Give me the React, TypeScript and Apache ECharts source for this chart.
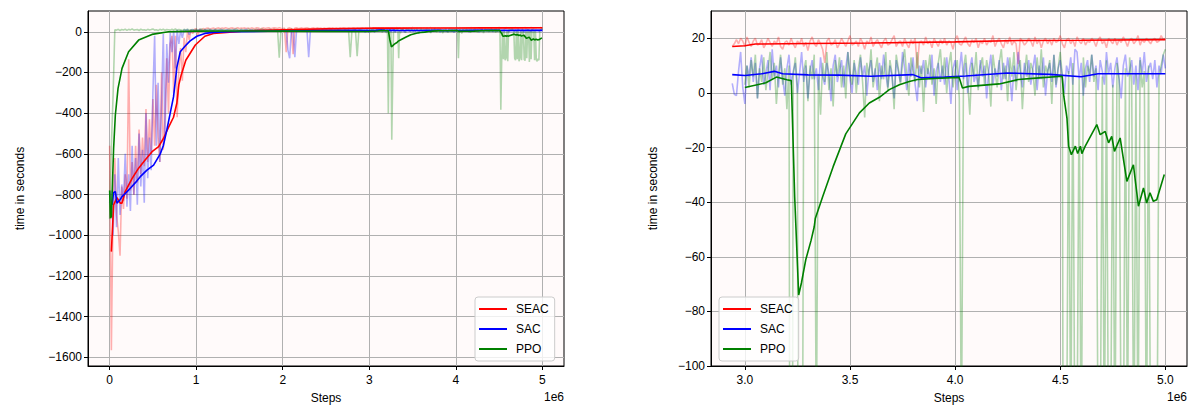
import React, { useEffect, useRef } from "react";
import * as echarts from "echarts";

// ---------- DATA (x in units of 1e6 steps) ----------
const EARLY_START = 0;
const EARLY_STEP = 0.02;
const LATE_START = 2.94;
const LATE_STEP = 0.01;

const seacRawEarly = [
  -560, -1565, -850, -620, -900, -980, -1100, -760, -870, -700,
  -820, -135, -780, -640, -800, -560, -740, -480, -700, -520,
  -660, -380, -640, -430, -600, -330, -560, -260, -520, -640,
  -200, -580, -420, -130, -400, -60, -20, -300, -20, -420,
  -180, -80, -240, -30, -100, 5, -40, 10, -10, 12,
  15, -20, 14, 8, 16, 12, 17, 18, 13, 16,
  18, 14, 17, 19, 15, 18, 16, 20, 17, 15,
  18, 19, 16, 17, 20, 15, 18, 17, 19, 16,
  18, 15, 19, 17, 16, 20, 18, 14, 17, 19,
  16, 18, 20, 15, 17, 19, 18, 16, 20, 17,
  15, 18, -100, 17, 19, 16, -110, 18, 20, 15,
  17, 19, 16, 18, 20, 17, 15, 18, 19, 16,
  20, 17, 18, 15, 19, 16, 18, 20, 17, 19,
  16, 18, 15, 19, 17, 20, 18, 16, 19, 17,
  18, 20, 16, 19, 17, 18, 19,
];

const sacRawEarly = [
  -840, -780, -1000, -700, -960, -620, -900, -750, -830, -600,
  -860, -700, -880, -560, -800, -620, -850, -500, -760, -580,
  -840, -400, -720, -520, -680, -300, -20, -560, -250, -640,
  -350, -10, -520, -60, -250, -5, -100, 5, -180, 10,
  -60, 8, -30, 10, 5, 12, -15, 8, 10, 6,
  9, 5, 11, 7, 3, 10, 8, 6, 12, 4,
  8, 10, 5, 9, 7, 11, 4, 8, 10, 6,
  9, 5, 11, 7, 8, 3, 10, 6, 9, 12,
  5, 8, 10, 4, 9, 7, 11, 6, 8, 10,
  4, 9, 7, 12, 5, 8, 10, 6, 9, 7,
  11, 5, 8, -90, -130, 6, 9, -125, 10, 7,
  5, 8, 10, 6, 9, -125, 7, 4, 11, 8,
  6, 9, 5, 10, 7, 12, 4, 8, 10, 6,
  9, 5, 11, 7, 8, 4, 10, 6, 9, 12,
  5, 8, 10, 7, 9, 6, 4,
];

const ppoRawEarly = [
  -920, -560, -310, 10, 8, 12, 6, 11, 9, 13,
  7, 12, 9, 14, 8, 10, 11, 6, 13, 9,
  10, 7, 12, 9, 11, 14, 8, 10, 6, 12,
  9, 13, 7, 11, 10, 8, 12, 9, 14, 7,
  11, 10, 6, 12, 9, 13, 8, 10, 11, 7,
  12, 9, 10, 14, 8, 11, 7, 13, 9, 10,
  6, 12, 10, 8, 13, 9, 11, 7, 10, 12,
  8, 11, 9, 14, 10, 7, 12, 9, 11, 8,
  13, 10, 7, 11, 9, 12, 8, 10, 14, 9,
  11, 7, 12, 10, 8, 13, 9, 11, -128, 10,
  8, 12, 9, 11, 7, 13, 10, 8, 12, 9,
  11, 10, 7, 13, 9, 12, 8, 10, 11, 9,
  12, 8, 10, 13, 9, 7, 11, 10, 12, 8,
  10, 13, 9, 11, 7, 12, 10, 8, 11, -125,
  9, 12, 10, -120, 8, 11, 7,
];

const seacRawLate = [
  17, 18, 19.5, 18, 20, 19, 17, 20.5, 18.5, 17,
  19, 20, 17.5, 18, 19.5, 16.5, 18, 20, 18.5, 17,
  19, 18, 20.5, 17, 16, 18.5, 19, 17.5, 20, 18,
  16.5, 19, 18, 20, 17, 18.5, 15.5, 19, 20.5, 18,
  17, 19.5, 18, 16, 11, 19, 20, 17.5, 18, 19.5,
  16.5, 18, 20, 18.5, 17, 19, 21, 17.5, 18, 19,
  17, 20, 18.5, 16, 19, 18, 20.5, 17, 18.5, 19.5,
  18, 16.5, 19, 20, 17.5, 18, 19.5, 21, 17, 18.5,
  19, 17, 20, 18, 16.5, 19.5, 18, 20, 9, 18.5,
  19, 17.5, 20.5, 18, 19, 16.5, 20, 18.5, 17, 19.5,
  18, 20, 17.5, 19, 18.5, 16, 19.5, 21, 18, 17.5,
  19, 20.5, 18, 17, 19.5, 18.5, 20, 16.5, 19, 18,
  20, 17.5, 19, 18.5, 21, 17, 19, 20, 18, 16.5,
  19.5, 18, 20.5, 17.5, 19, 18, 10.5, 20, 19, 17.5,
  18.5, 20, 19, 17, 20.5, 18, 19.5, 16.5, 19, 20,
  18, 19.5, 17.5, 20, 18.5, 19, 21, 18, 16.5, 19.5,
  20, 18, 19.5, 17, 20.5, 19, 18, 20, 17.5, 19,
  18.5, 20, 19, 17, 19.5, 20.5, 18, 19, 16.5, 20,
  19, 18, 20, 17.5, 19.5, 18.5, 20.5, 19, 17, 19.5,
  20, 18, 19, 21, 17.5, 19.5, 18.5, 20, 19, 18,
  19.5, 20, 18.5, 19, 21, 19.5, 20,
];

const sacRawLate = [
  3.5, -0.5, -1, 8, 15, 2, -4, 10, 6, 13,
  4, 11, -2, 9, 14, 3, 7, 12, 1, 16,
  6, 10, 2, 13, 5, -1, 9, 14, 3, 8,
  11, 0, 7, 15, 4, 10, -2, 8, 12, 5,
  9, 1, 13, 6, 3, 11, 7, -3, 10, 14,
  4, 8, 12, 2, 9, 15, 5, 0, 11, 7,
  3, 13, 6, 10, -1, 8, 12, 4, 9, 1,
  11, 5, 14, 7, 2, 10, 6, -2, 12, 8,
  4, 15, 9, 1, 11, 6, 13, 3, -3, 10,
  7, 12, 2, 9, 5, 14, -1, 8, 11, 4,
  10, 3, 13, 6, -4, 9, 12, 1, 8, 15,
  5, 11, 0, 9, 13, 4, 7, 2, 12, 6,
  10, -2, 8, 14, 3, 9, 6, 12, 1, 11,
  5, 13, 7, -3, 10, 4, 15, 8, 2, 11,
  6, 12, 3, 9, 14, 1, 10, 5, 13, -1,
  8, 11, 4, 14, 2, 9, 12, 6, 0, 10,
  7, 13, 3, 16, 15, 5, 11, -1, 9, 12,
  4, 14, 6, 10, 1, 12, 8, 3, 15, 7,
  11, 2, 9, 13, 5, -2, 10, 14, 6, 8,
  12, 3, 10, 1, 13, 7, 15, 4, 9, 11,
  5, 12, 2, 10, 7, 14, 9,
];

const ppoRawLate = [
  6, 8, 4, 9, 5, 7, 3, 10, 2, 12,
  6, 14, -2, 9, 4, 13, 1, 8, 15, 5,
  11, -4, 7, 14, 3, 9, -6, 10, -400, 6,
  13, 2, -530, -250, 8, 12, -3, 10, 5, 14,
  -130, 7, -8, 11, 4, 15, 1, 9, -5, 12,
  6, 13, 2, 10, -2, 15, 7, 3, 12, 0,
  9, 14, 4, -9, 11, 6, 16, 2, 8, 13,
  -3, 10, 5, 15, 1, 12, 7, -6, 14, 9,
  3, 11, 16, 6, -1, 13, 8, 4, 15, 2,
  10, -7, 12, 7, 14, 3, 9, -4, 11, 16,
  5, 13, 0, 10, 15, 2, 8, 12, -2, -130,
  9, 14, 4, -8, 11, 6, 15, 1, 10, 13,
  3, 12, 7, -5, 14, 8, 2, 11, 16, 5,
  10, -3, 13, 6, 15, 1, 9, 12, -6, 7,
  14, 4, 11, 8, -1, 13, 5, 16, 2, 10,
  7, 12, -4, 14, 3, 9, 15, 6, -383, -140,
  8, -135, 11, -140, -130, 5, -145, 13, 2, 10,
  7, 14, 4, 9, -130, -140, 6, -135, 12, -145,
  -130, 3, -140, 11, 5, -135, -142, 9, -130, 13,
  4, -148, 7, -135, 12, 2, 8, -140, 10, -138,
  -145, -132, -140, 6, 10, 14, 16,
];

const seacSmoothX = [0.02, 0.046, 0.085, 0.123, 0.143, 0.18, 0.26, 0.335, 0.41, 0.49, 0.566, 0.623, 0.68, 0.738, 0.777, 0.8, 0.827, 0.88, 0.99, 1.1, 1.2, 1.35, 1.6, 2.0, 2.5, 2.94, 3.0, 3.05, 3.3, 3.6, 4.0, 4.3, 4.6, 5.0];
const seacSmoothY = [-1080, -850, -815, -842, -842, -785, -720, -670, -630, -589, -564, -523, -470, -420, -350, -260, -212, -140, -65, -22, -8, -3, 5, 10, 14, 17.0, 17.3, 17.9, 18.1, 18.3, 18.7, 19.2, 19.3, 19.5];

const sacSmoothX = [0.027, 0.046, 0.066, 0.085, 0.12, 0.143, 0.19, 0.239, 0.3, 0.354, 0.431, 0.508, 0.585, 0.62, 0.662, 0.7, 0.738, 0.777, 0.816, 0.873, 0.93, 1.008, 1.1, 1.2, 1.4, 2.0, 2.5, 2.94, 3.0, 3.08, 3.14, 3.18, 3.3, 3.45, 3.6, 3.8, 3.84, 3.95, 4.05, 4.25, 4.45, 4.6, 4.68, 4.85, 5.0];
const sacSmoothY = [-851, -790, -785, -842, -825, -810, -790, -769, -740, -712, -680, -655, -600, -560, -480, -400, -320, -175, -98, -70, -45, -22, -8, -3, 0, 4, 6, 6.7, 6.4, 7.0, 7.9, 7.0, 6.6, 6.5, 6.1, 6.7, 5.5, 5.8, 6.2, 7.3, 6.8, 5.9, 7.0, 7.0, 7.0];

const ppoSmoothX = [0.0, 0.01, 0.02, 0.046, 0.066, 0.097, 0.143, 0.219, 0.335, 0.489, 0.68, 1.0, 1.5, 2.0, 2.5, 2.8, 3.0, 3.1, 3.15, 3.2, 3.221, 3.237, 3.256, 3.269, 3.29, 3.315, 3.33, 3.335, 3.37, 3.42, 3.48, 3.545, 3.592, 3.64, 3.687, 3.735, 3.782, 3.821, 3.9, 4.019, 4.035, 4.066, 4.21, 4.3, 4.4, 4.509, 4.517, 4.532, 4.54, 4.553, 4.572, 4.583, 4.596, 4.603, 4.619, 4.674, 4.69, 4.714, 4.73, 4.745, 4.758, 4.785, 4.817, 4.848, 4.872, 4.896, 4.911, 4.927, 4.943, 4.959, 4.995];
const ppoSmoothY = [-780, -915, -908, -572, -409, -278, -180, -98, -41, -13, 0, 3, 4, 3, 2, 1, 2.0, 3.7, 5.8, 4.8, 4.5, -38, -74, -69.6, -61, -54, -49, -46, -38, -27, -15, -7.3, -3.7, -1.6, 1.2, 3.0, 4.2, 4.9, 5.3, 5.7, 1.8, 2.4, 3.3, 4.9, 5.5, 6.1, -1.2, -9.2, -19.5, -22.6, -19.5, -22.2, -19.5, -22.2, -19.5, -11.6, -15.3, -14.1, -18.3, -15.9, -21.4, -16.5, -32.4, -26.3, -41.5, -34.8, -40.3, -36.6, -39.7, -39.1, -29.9];

const algoNames = ["SEAC", "SAC", "PPO"];
const algoColors = ["#ff0000", "#0000ff", "#008000"];

const leftXTicks = [0, 1, 2, 3, 4, 5];
const leftYTicks = [-1600, -1400, -1200, -1000, -800, -600, -400, -200, 0];
const rightXTicks = [3.0, 3.5, 4.0, 4.5, 5.0];
const rightYTicks = [-100, -80, -60, -40, -20, 0, 20];

// ---------- helpers ----------
const stepped = (start: number, step: number, ys: number[]) =>
  ys.map((y, i) => [Math.round((start + i * step) * 1000) / 1000, y]);
const paired = (xs: number[], ys: number[]) => xs.map((x, i) => [x, ys[i]]);
const from = (pts: number[][], x0: number) => pts.filter((p) => p[0] >= x0 - 1e-9);

const FONT = "'Liberation Sans', Arial, sans-serif";
const TXT = "#000000";

export default function App() {
  const ref = useRef<HTMLDivElement>(null);

  useEffect(() => {
    if (!ref.current) return;
    const chart = echarts.init(ref.current, undefined, { renderer: "svg" });

    const raw = [
      [...stepped(EARLY_START, EARLY_STEP, seacRawEarly), ...stepped(LATE_START, LATE_STEP, seacRawLate)],
      [...stepped(EARLY_START, EARLY_STEP, sacRawEarly), ...stepped(LATE_START, LATE_STEP, sacRawLate)],
      [...stepped(EARLY_START, EARLY_STEP, ppoRawEarly), ...stepped(LATE_START, LATE_STEP, ppoRawLate)],
    ];
    const smooth = [
      paired(seacSmoothX, seacSmoothY),
      paired(sacSmoothX, sacSmoothY),
      paired(ppoSmoothX, ppoSmoothY),
    ];
    const rightStart = [2.94, 2.94, 3.0];

    const series: any[] = [];
    [0, 1].forEach((g) => {
      algoNames.forEach((name, k) => {
        series.push({
          type: "line",
          name: name + " raw",
          xAxisIndex: g,
          yAxisIndex: g,
          data: g === 0 ? raw[k] : from(raw[k], rightStart[k]),
          showSymbol: false,
          symbol: "none",
          color: algoColors[k],
          lineStyle: { color: algoColors[k], width: 1.6, opacity: 0.3 },
          silent: true,
          z: 2,
        });
      });
      algoNames.forEach((name, k) => {
        series.push({
          type: "line",
          name,
          xAxisIndex: g,
          yAxisIndex: g,
          data: g === 0 ? smooth[k] : from(smooth[k], rightStart[k]),
          showSymbol: false,
          symbol: "none",
          color: algoColors[k],
          itemStyle: { color: algoColors[k] },
          lineStyle: { color: algoColors[k], width: 1.6 },
          silent: true,
          z: 3,
        });
      });
    });

    const gridBase = {
      top: 11,
      width: 476,
      height: 355,
      show: true,
      backgroundColor: "#fffafa",
      borderColor: "#000000",
      borderWidth: 1,
      containLabel: false,
      outerBoundsMode: "none",
    };

    const mkX = (g: number, min: number, max: number, ticks: number[], fmt: (v: number) => string) => ({
      type: "value",
      gridIndex: g,
      min,
      max,
      name: "Steps",
      nameLocation: "middle",
      nameGap: 26,
      nameTextStyle: { fontFamily: FONT, fontSize: 12, color: TXT },
      axisLine: { show: true, onZero: false, lineStyle: { color: "#000", width: 1 } },
      axisTick: { show: true, inside: false, length: 4, customValues: ticks, lineStyle: { color: "#000" } },
      axisLabel: { customValues: ticks, formatter: fmt, margin: 8, fontFamily: FONT, fontSize: 12, color: TXT },
      splitLine: { show: true, lineStyle: { color: "#b0b0b0", width: 1 } },
    });
    const mkY = (g: number, min: number, max: number, ticks: number[], gap: number) => ({
      type: "value",
      gridIndex: g,
      min,
      max,
      name: "time in seconds",
      nameLocation: "middle",
      nameGap: gap,
      nameTextStyle: { fontFamily: FONT, fontSize: 12, color: TXT },
      axisLine: { show: true, onZero: false, lineStyle: { color: "#000", width: 1 } },
      axisTick: { show: true, inside: false, length: 4, customValues: ticks, lineStyle: { color: "#000" } },
      axisLabel: {
        customValues: ticks,
        formatter: (v: number) => String(v).replace("-", "\u2212"),
        margin: 6,
        fontFamily: FONT,
        fontSize: 12,
        color: TXT,
      },
      splitLine: { show: true, lineStyle: { color: "#b0b0b0", width: 1 } },
    });

    const legendBase = {
      data: algoNames,
      orient: "vertical",
      top: 297,
      icon: "rect",
      itemWidth: 28,
      itemHeight: 2,
      itemGap: 6,
      padding: [5, 6, 5, 4],
      backgroundColor: "rgba(255,255,255,0.8)",
      borderColor: "#cccccc",
      borderWidth: 1,
      borderRadius: 3,
      selectedMode: false,
      textStyle: { fontFamily: FONT, fontSize: 12, color: TXT, lineHeight: 14, padding: [0, 0, 0, 4] },
    };

    chart.setOption({
      animation: false,
      grid: [
        { ...gridBase, left: 88 },
        { ...gridBase, left: 711 },
      ],
      xAxis: [
        mkX(0, -0.25, 5.25, leftXTicks, (v) => String(v)),
        mkX(1, 2.839, 5.103, rightXTicks, (v) => v.toFixed(1)),
      ],
      yAxis: [
        mkY(0, -1642, 102, leftYTicks, 62),
        mkY(1, -100, 30, rightYTicks, 52),
      ],
      legend: [
        { ...legendBase, left: 475 },
        { ...legendBase, left: 719 },
      ],
      graphic: [
        { type: "text", x: 564, y: 391, style: { text: "1e6", align: "right", verticalAlign: "top", fontFamily: FONT, fontSize: 12, fill: TXT } },
        { type: "text", x: 1187, y: 391, style: { text: "1e6", align: "right", verticalAlign: "top", fontFamily: FONT, fontSize: 12, fill: TXT } },
      ],
      series,
    });

    return () => chart.dispose();
  }, []);

  return (
    <div
      ref={ref}
      style={{ position: "fixed", left: 0, top: 0, width: 1188, height: 406, background: "#ffffff" }}
    />
  );
}
